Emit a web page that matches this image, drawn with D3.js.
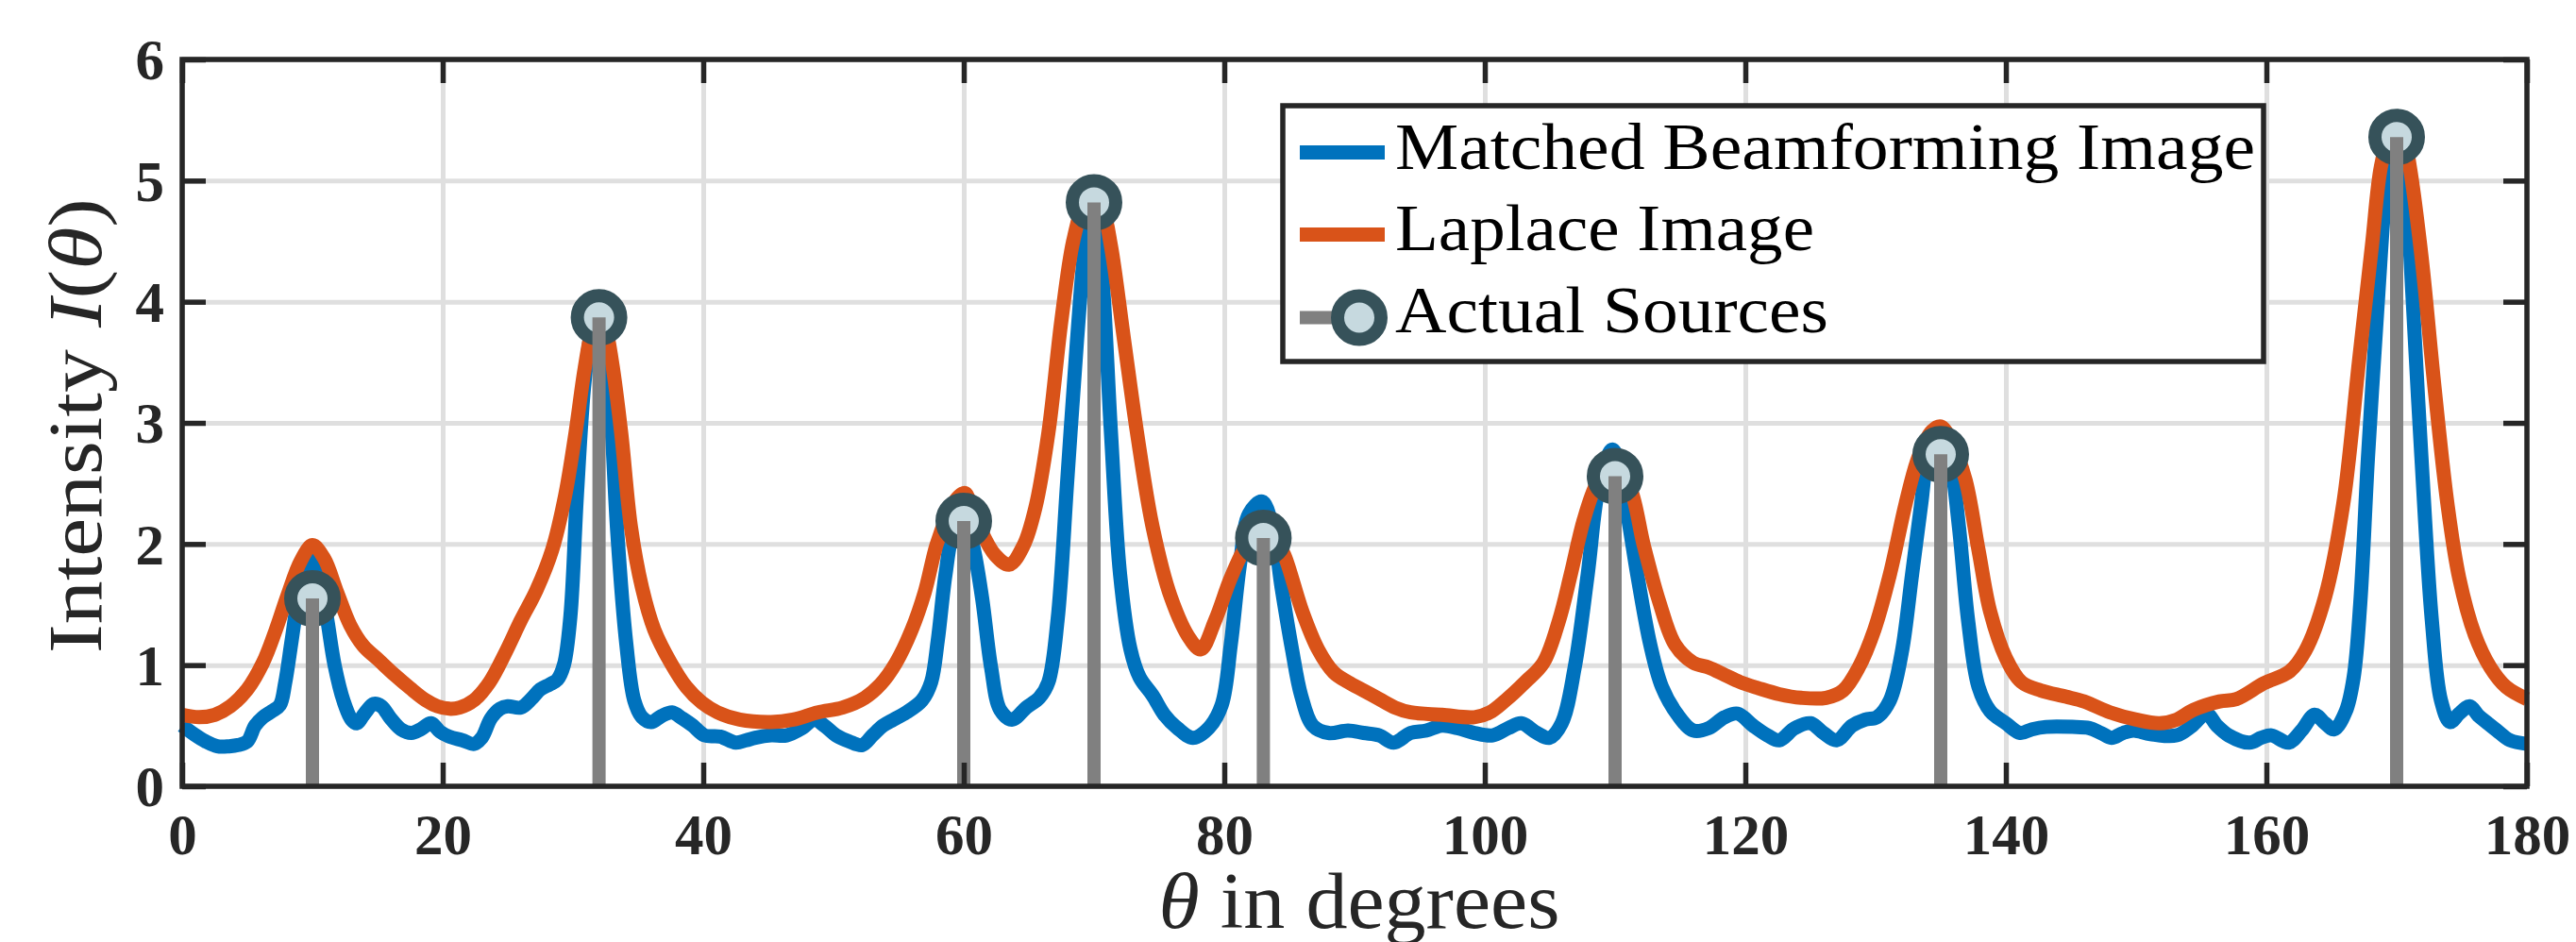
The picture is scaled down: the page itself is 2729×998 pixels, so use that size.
<!DOCTYPE html>
<html>
<head>
<meta charset="utf-8">
<script src="https://cdn.jsdelivr.net/npm/d3@7"></script>
<style>
  html, body { margin: 0; padding: 0; background: #fff; }
  svg { display: block; }
</style>
</head>
<body>
<svg id="chart" width="2729" height="998"></svg>
<script>
// ---------------- data ----------------
const thetaBeam = [0,0.9,1.8,2.7,3.6,4.3,5.0,5.6,6.2,6.9,7.5,7.9,8.4,8.9,9.5,10.0,10.5,11.1,11.7,12.4,13.0,13.4,14.0,14.7,15.3,16.0,16.8,17.6,18.3,19.1,19.8,20.5,21.5,22.4,23.0,23.7,24.4,25.0,26.0,26.8,27.5,28.2,28.8,29.3,29.8,30.3,30.9,31.5,32.0,32.5,33.0,33.4,34.1,34.7,35.3,36.0,36.8,37.6,38.4,39.2,40.1,41.3,42.5,43.3,44.0,45.2,46.4,47.6,48.5,49.3,50.2,51.2,52.2,53.0,53.8,54.6,55.6,56.8,57.5,58.0,58.6,59.2,60.0,60.7,61.4,62.1,62.8,63.7,64.8,65.8,66.5,67.2,67.95,68.7,69.4,70.0,70.6,71.3,72.0,72.8,73.5,74.5,75.4,76.4,77.6,78.8,79.8,80.5,81.2,81.9,82.9,83.7,84.4,85.2,85.9,86.8,88.0,89.5,90.7,91.9,93.0,94.3,95.5,96.7,97.9,99.2,100.6,101.8,102.8,104.0,104.95,105.9,106.9,107.9,108.8,109.8,110.8,111.7,112.7,113.6,114.8,116.0,117.2,118.4,119.4,120.6,121.7,122.6,123.8,125.0,126.0,127.0,128.2,129.2,130.1,131.1,132.0,132.8,133.5,134.2,135.0,135.7,136.4,137.1,137.9,138.8,140.0,141.1,142.0,143.1,145.1,146.4,147.3,148.1,149.0,149.8,151.1,153.1,154.3,155.4,156.2,157.1,158.7,159.6,160.4,161.7,162.7,163.7,164.5,165.2,166.1,166.7,167.2,167.8,168.6,169.1,169.6,170.0,170.4,170.8,171.2,171.9,172.7,173.4,174.1,174.8,175.6,176.3,177.0,177.7,178.7,180.0];
const intensityBeam = [0.50,0.43,0.37,0.33,0.33,0.34,0.37,0.50,0.57,0.62,0.67,0.85,1.20,1.55,1.80,1.88,1.75,1.40,1.00,0.70,0.55,0.52,0.60,0.68,0.66,0.56,0.47,0.44,0.47,0.52,0.45,0.41,0.38,0.35,0.40,0.56,0.64,0.66,0.65,0.72,0.80,0.84,0.88,1.00,1.40,2.40,3.35,3.80,3.92,3.70,2.90,2.10,1.17,0.71,0.57,0.53,0.58,0.61,0.56,0.50,0.42,0.41,0.36,0.38,0.40,0.42,0.42,0.48,0.55,0.50,0.42,0.37,0.34,0.42,0.50,0.55,0.61,0.71,0.86,1.20,1.75,2.10,2.22,1.99,1.56,0.98,0.63,0.55,0.65,0.73,0.86,1.37,2.53,3.69,4.54,4.85,4.27,2.92,1.75,1.13,0.90,0.75,0.59,0.48,0.40,0.48,0.67,1.17,1.83,2.25,2.35,2.14,1.64,1.13,0.75,0.50,0.44,0.46,0.44,0.42,0.36,0.44,0.46,0.50,0.48,0.44,0.42,0.48,0.52,0.44,0.40,0.52,0.98,1.75,2.50,2.78,2.33,1.75,1.17,0.82,0.59,0.46,0.48,0.57,0.60,0.50,0.42,0.38,0.48,0.52,0.44,0.38,0.50,0.55,0.57,0.71,1.10,1.75,2.33,2.84,2.95,2.72,2.14,1.37,0.82,0.62,0.52,0.44,0.47,0.49,0.49,0.48,0.44,0.40,0.44,0.46,0.43,0.42,0.50,0.60,0.50,0.42,0.36,0.40,0.42,0.36,0.46,0.59,0.52,0.47,0.62,0.90,1.50,2.72,4.08,4.85,5.30,5.40,5.30,4.85,4.08,2.72,1.37,0.71,0.53,0.60,0.66,0.58,0.52,0.46,0.38,0.35];

const thetaLaplace = [0,1.3,2.5,3.7,5.0,6.2,7.15,8.1,9.1,10.0,10.9,11.9,12.9,13.9,15.1,16.3,17.5,18.7,19.6,20.5,21.3,22.4,23.6,24.8,26.0,27.2,28.4,29.4,30.2,30.9,31.5,32.0,32.5,33.0,33.7,34.45,35.3,36.25,37.5,38.7,39.9,41.1,42.8,45.2,46.9,48.8,50.7,52.4,53.6,54.8,56.0,57.0,57.9,58.7,59.5,60.1,60.6,61.2,62.4,63.5,64.6,65.5,66.5,67.5,68.4,69.2,70.0,70.7,71.3,72.3,73.3,74.5,75.9,77.4,78.2,79.3,80.5,81.7,82.6,83.2,84.0,84.6,86.0,87.2,88.4,89.5,90.7,91.9,93.1,94.3,96.7,99.2,100.4,101.6,103.1,104.5,105.7,106.6,107.6,108.6,109.5,110.2,111.2,112.2,113.4,114.6,116.0,117.2,118.4,119.6,121.0,122.6,124.3,126.2,127.5,128.7,129.9,131.1,132.3,133.3,134.3,135.0,135.8,136.9,137.9,138.8,140.0,141.2,142.7,144.6,146.0,148.0,150.0,151.8,153.1,154.4,156.4,157.7,159.8,161.8,163.0,164.5,165.9,167.1,168.1,168.8,169.5,170.0,170.5,171.0,171.9,172.9,173.9,174.8,176.0,177.2,178.4,180.0];
const intensityLaplace = [0.59,0.57,0.59,0.66,0.80,1.02,1.28,1.58,1.86,1.99,1.88,1.60,1.33,1.16,1.04,0.92,0.81,0.71,0.66,0.64,0.65,0.71,0.86,1.10,1.37,1.62,1.95,2.40,2.92,3.45,3.78,3.88,3.78,3.50,2.92,2.14,1.64,1.29,1.02,0.82,0.69,0.61,0.55,0.53,0.55,0.61,0.65,0.73,0.84,1.02,1.29,1.60,1.99,2.22,2.38,2.42,2.30,2.14,1.91,1.83,1.99,2.30,2.92,3.85,4.50,4.78,4.85,4.75,4.46,3.69,2.92,2.14,1.56,1.21,1.13,1.37,1.72,1.99,2.10,2.10,2.02,1.91,1.44,1.13,0.94,0.86,0.79,0.72,0.65,0.61,0.59,0.57,0.61,0.71,0.86,1.02,1.37,1.75,2.20,2.50,2.62,2.62,2.45,1.99,1.52,1.17,1.02,0.98,0.92,0.86,0.81,0.76,0.73,0.73,0.79,0.98,1.29,1.75,2.33,2.72,2.93,2.97,2.85,2.53,1.95,1.44,1.06,0.86,0.79,0.74,0.70,0.61,0.55,0.52,0.55,0.63,0.70,0.72,0.85,0.95,1.12,1.56,2.33,3.50,4.46,5.12,5.38,5.42,5.38,5.12,4.38,3.30,2.33,1.72,1.25,0.98,0.82,0.72];

const sourceTheta = [10, 32, 60, 70, 83, 110, 135, 170];
const sourceAmp   = [1.55, 3.87, 2.19, 4.82, 2.05, 2.56, 2.74, 5.36];

const xTickValues = [0, 20, 40, 60, 80, 100, 120, 140, 160, 180];
const yTickValues = [0, 1, 2, 3, 4, 5, 6];

const legendLabels = ["Matched Beamforming Image", "Laplace Image", "Actual Sources"];

// ---------------- layout & style ----------------
const L = 193, R = 2677, T = 63, B = 833;
const COL_BLUE = "#0072BD", COL_ORANGE = "#D95319", COL_STEM = "#808080";
const COL_MK_EDGE = "#36525a", COL_MK_FILL = "#c6d9df";
const COL_AX = "#262626", COL_GRID = "#dfdfdf";
const LW = 15, AXW = 5.5, TICK = 25;
const tickFont = "'Liberation Serif', 'Times New Roman', serif";
const textFont = "'Liberation Serif', 'Times New Roman', serif";

const svg = d3.select("#chart");
const x = d3.scaleLinear().domain([0, 180]).range([L, R]);
const y = d3.scaleLinear().domain([0, 6]).range([B, T]);

// grid
const grid = svg.append("g");
grid.append("g").attr("transform", `translate(0,${B})`)
  .call(d3.axisBottom(x).tickValues(xTickValues).tickSize(-(B - T)).tickFormat(""))
  .call(g => g.select(".domain").remove())
  .selectAll("line").attr("stroke", COL_GRID).attr("stroke-width", 5);
grid.append("g").attr("transform", `translate(${L},0)`)
  .call(d3.axisLeft(y).tickValues(yTickValues).tickSize(-(R - L)).tickFormat(""))
  .call(g => g.select(".domain").remove())
  .selectAll("line").attr("stroke", COL_GRID).attr("stroke-width", 5);

// lines
const line = d3.line().curve(d3.curveCatmullRom.alpha(0.5));
const beamPts = thetaBeam.map((t, i) => [x(t), y(intensityBeam[i])]);
const lapPts = thetaLaplace.map((t, i) => [x(t), y(intensityLaplace[i])]);
svg.append("path").attr("d", line(beamPts)).attr("fill", "none")
  .attr("stroke", COL_BLUE).attr("stroke-width", LW).attr("stroke-linejoin", "round");
svg.append("path").attr("d", line(lapPts)).attr("fill", "none")
  .attr("stroke", COL_ORANGE).attr("stroke-width", LW).attr("stroke-linejoin", "round");

// markers then stems
const src = sourceTheta.map((t, i) => ({t, a: sourceAmp[i]}));
svg.append("g").selectAll("circle").data(src).join("circle")
  .attr("cx", d => x(d.t)).attr("cy", d => y(d.a)).attr("r", 23)
  .attr("fill", COL_MK_FILL).attr("stroke", COL_MK_EDGE).attr("stroke-width", 14);
svg.append("g").selectAll("line").data(src).join("line")
  .attr("x1", d => x(d.t)).attr("x2", d => x(d.t))
  .attr("y1", y(0)).attr("y2", d => y(d.a))
  .attr("stroke", COL_STEM).attr("stroke-width", 14);

// axes box & ticks
function styleAxis(g) {
  g.select(".domain").remove();
  g.selectAll(".tick line").attr("stroke", COL_AX).attr("stroke-width", AXW);
}
const xb = svg.append("g").attr("transform", `translate(0,${B})`)
  .call(d3.axisBottom(x).tickValues(xTickValues).tickSizeInner(-TICK).tickSizeOuter(0).tickFormat(d3.format("d")))
  .call(styleAxis);
xb.selectAll("text").attr("y", 72).attr("dy", 0)
  .attr("font-family", tickFont).attr("font-weight", "bold").attr("font-size", 61).attr("fill", COL_AX);
svg.append("g").attr("transform", `translate(0,${T})`)
  .call(d3.axisTop(x).tickValues(xTickValues).tickSizeInner(-TICK).tickSizeOuter(0).tickFormat(""))
  .call(styleAxis);
const yl = svg.append("g").attr("transform", `translate(${L},0)`)
  .call(d3.axisLeft(y).tickValues(yTickValues).tickSizeInner(-TICK).tickSizeOuter(0).tickPadding(19).tickFormat(d3.format("d")))
  .call(styleAxis);
yl.selectAll("text").attr("dy", "0.34em")
  .attr("font-family", tickFont).attr("font-weight", "bold").attr("font-size", 61).attr("fill", COL_AX);
svg.append("g").attr("transform", `translate(${R},0)`)
  .call(d3.axisRight(y).tickValues(yTickValues).tickSizeInner(-TICK).tickSizeOuter(0).tickFormat(""))
  .call(styleAxis);
svg.append("rect").attr("x", L).attr("y", T).attr("width", R - L).attr("height", B - T)
  .attr("fill", "none").attr("stroke", COL_AX).attr("stroke-width", AXW);

// axis labels
const ylab = svg.append("text")
  .attr("transform", `translate(107,451) rotate(-90)`)
  .attr("text-anchor", "middle").attr("font-family", textFont).attr("font-size", 80).attr("fill", COL_AX);
ylab.append("tspan").text("Intensity ");
ylab.append("tspan").attr("font-style", "italic").text("I");
ylab.append("tspan").text("(");
ylab.append("tspan").attr("font-style", "italic").text("θ");
ylab.append("tspan").text(")");
ylab.attr("textLength", 482).attr("lengthAdjust", "spacingAndGlyphs");

const xlab = svg.append("text")
  .attr("x", 1440).attr("y", 983)
  .attr("text-anchor", "middle").attr("font-family", textFont).attr("font-size", 84).attr("fill", COL_AX);
xlab.append("tspan").attr("font-style", "italic").text("θ");
xlab.append("tspan").text(" in degrees");
xlab.attr("textLength", 425).attr("lengthAdjust", "spacingAndGlyphs");

// legend
const lg = svg.append("g");
lg.append("rect").attr("x", 1359).attr("y", 112).attr("width", 2398 - 1359).attr("height", 383 - 112)
  .attr("fill", "#fff").attr("stroke", COL_AX).attr("stroke-width", AXW);
const rowsY = [161.5, 248.5, 336.5];
const baseY = [179, 265, 351.5];
const textLens = [911, 444, 459];
lg.append("line").attr("x1", 1377).attr("x2", 1467).attr("y1", rowsY[0]).attr("y2", rowsY[0])
  .attr("stroke", COL_BLUE).attr("stroke-width", LW);
lg.append("line").attr("x1", 1377).attr("x2", 1467).attr("y1", rowsY[1]).attr("y2", rowsY[1])
  .attr("stroke", COL_ORANGE).attr("stroke-width", LW);
lg.append("line").attr("x1", 1377).attr("x2", 1440).attr("y1", rowsY[2]).attr("y2", rowsY[2])
  .attr("stroke", COL_STEM).attr("stroke-width", 14);
lg.append("circle").attr("cx", 1440).attr("cy", rowsY[2]).attr("r", 23)
  .attr("fill", COL_MK_FILL).attr("stroke", COL_MK_EDGE).attr("stroke-width", 14);
legendLabels.forEach((s, i) => {
  lg.append("text").attr("x", 1478).attr("y", baseY[i])
    .attr("font-family", textFont).attr("font-size", 70).attr("fill", "#000")
    .attr("textLength", textLens[i]).attr("lengthAdjust", "spacingAndGlyphs")
    .text(s);
});
</script>
</body>
</html>
